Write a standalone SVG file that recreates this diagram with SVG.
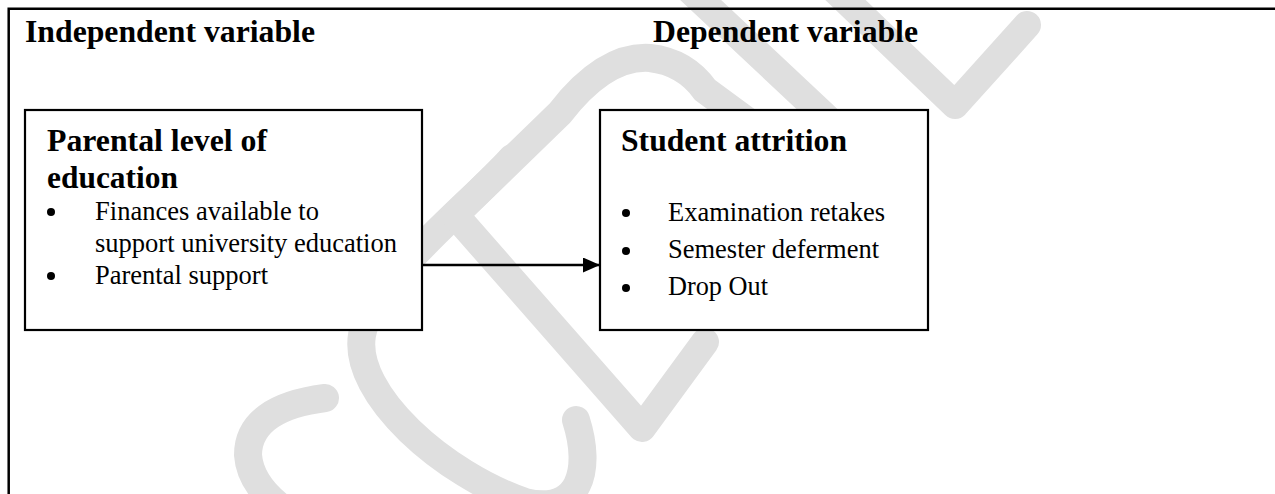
<svg xmlns="http://www.w3.org/2000/svg" width="1275" height="494" viewBox="0 0 1275 494">
<style>
.wm{fill:none;stroke:#dfdfdf;stroke-width:28;stroke-linecap:round;stroke-linejoin:round}
.box{fill:#ffffff;stroke:#000000;stroke-width:2.2}
.hd{font-weight:bold;font-size:31px;fill:#000}
.tx{font-size:26.5px;fill:#000}
.frame{stroke:#000;stroke-width:2.5;fill:none}
.conn{stroke:#000;stroke-width:2.6;fill:none}
</style>
<defs>
<marker id="ah" markerWidth="17" markerHeight="15" refX="17" refY="7.5" orient="auto" markerUnits="userSpaceOnUse" viewBox="0 0 17 15">
<path d="M0,0 L17,7.5 L0,15 z" fill="#000"/>
</marker>
</defs>
<rect x="0" y="0" width="1275" height="494" fill="#ffffff"/>
<g id="watermark">
<path class="wm" d="M 325 398 Q 248 408 248 455 Q 250 482 278 505"/>
<path class="wm" d="M 512 158 C 470 205, 372 280, 362 335 C 352 395, 445 475, 525 502 C 580 515, 592 470, 576 420"/>
<path class="wm" d="M 705 342 L 642 428 L 455 215 L 560 113 Q 605 55 650 58 Q 685 62 705 90 L 800 160"/>
<path class="wm" d="M 690 -10 L 850 140"/>
<path class="wm" d="M 835 -10 L 955 105 L 1027 25"/>
</g>
<path class="frame" d="M 8.7 494 L 8.7 8.8 L 1275 8.8"/>
<g font-family="'Liberation Serif', 'Times New Roman', Times, serif">
<g id="label-independent">
<text class="hd" x="25" y="42" textLength="290" lengthAdjust="spacingAndGlyphs">Independent variable</text>
</g>
<g id="label-dependent">
<text class="hd" x="653" y="42" textLength="265" lengthAdjust="spacingAndGlyphs">Dependent variable</text>
</g>
<g id="node-parental">
<rect class="box" x="25" y="110" width="397" height="220"/>
<text class="hd" x="47" y="151" textLength="220" lengthAdjust="spacingAndGlyphs">Parental level of</text>
<text class="hd" x="47" y="188" textLength="131" lengthAdjust="spacingAndGlyphs">education</text>
<circle cx="51" cy="212" r="4"/>
<text class="tx" x="95" y="220" textLength="224" lengthAdjust="spacingAndGlyphs">Finances available to</text>
<text class="tx" x="95" y="252" textLength="302" lengthAdjust="spacingAndGlyphs">support university education</text>
<circle cx="51" cy="276" r="4"/>
<text class="tx" x="95" y="284" textLength="173" lengthAdjust="spacingAndGlyphs">Parental support</text>
</g>
<g id="node-attrition">
<rect class="box" x="600" y="110" width="328" height="220"/>
<text class="hd" x="621" y="151" textLength="226" lengthAdjust="spacingAndGlyphs">Student attrition</text>
<circle cx="626" cy="213" r="4"/>
<text class="tx" x="668" y="221" textLength="217" lengthAdjust="spacingAndGlyphs">Examination retakes</text>
<circle cx="626" cy="251" r="4"/>
<text class="tx" x="668" y="258" textLength="211" lengthAdjust="spacingAndGlyphs">Semester deferment</text>
<circle cx="626" cy="288" r="4"/>
<text class="tx" x="668" y="295" textLength="100" lengthAdjust="spacingAndGlyphs">Drop Out</text>
</g>
</g>
<g id="connectors">
<path class="conn" d="M 422 265 L 600 265" marker-end="url(#ah)"/>
</g>
</svg>
